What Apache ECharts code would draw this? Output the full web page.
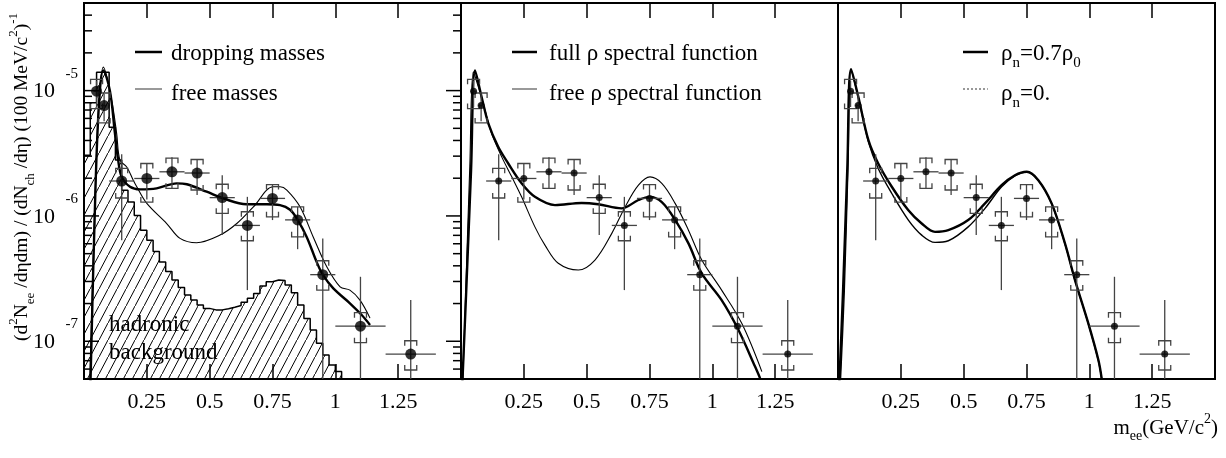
<!DOCTYPE html>
<html><head><meta charset="utf-8">
<script src="https://cdn.jsdelivr.net/npm/echarts@6/dist/echarts.min.js"></script>
<style>html,body{margin:0;padding:0;background:#fff}#c{width:1226px;height:458px}</style>
</head><body><div id="c"></div><script>
// ---------------- data ----------------
const xTickValues = [0.25, 0.5, 0.75, 1, 1.25];
const xTickLabels = ['0.25', '0.5', '0.75', '1', '1.25'];
const yDecades = [1e-7, 1e-6, 1e-5];
const yDecadeExp = ['-7', '-6', '-5'];
const yMinorTicks = [6e-8,7e-8,8e-8,9e-8,2e-7,3e-7,4e-7,5e-7,6e-7,7e-7,8e-7,9e-7,2e-6,3e-6,4e-6,5e-6,6e-6,7e-6,8e-6,9e-6,2e-5,3e-5,4e-5];

// CERES data points
const ptX    = [0.05, 0.08, 0.15, 0.25, 0.35, 0.45, 0.55, 0.65, 0.75, 0.85, 0.95, 1.10, 1.30];
const ptY    = [9.9e-6, 7.6e-6, 1.9e-6, 1.99e-6, 2.25e-6, 2.2e-6, 1.40e-6, 8.4e-7, 1.38e-6, 9.3e-7, 3.4e-7, 1.32e-7, 7.9e-8];
const ptXErr = [0.012, 0.012, 0.05, 0.05, 0.05, 0.05, 0.05, 0.05, 0.05, 0.05, 0.05, 0.1, 0.1];
const statHi = [1.2e-5, 9.4e-6, 3.10e-6, 2.6e-6, 2.94e-6, 2.84e-6, 2.11e-6, 1.42e-6, 1.79e-6, 1.18e-6, 6.62e-7, 3.27e-7, 2.13e-7];
const statLo = [7.4e-6, 5.7e-6, 6.41e-7, 1.35e-6, 1.67e-6, 1.47e-6, 7.03e-7, 2.56e-7, 9.27e-7, 5.43e-7, 1e-8, 1e-8, 1e-8];
const sysHi  = [1.23e-5, 9.57e-6, 2.40e-6, 2.62e-6, 2.89e-6, 2.82e-6, 1.79e-6, 1.08e-6, 1.78e-6, 1.18e-6, 4.39e-7, 1.69e-7, 1.01e-7];
const sysLo  = [7.19e-6, 5.52e-6, 1.39e-6, 1.29e-6, 1.66e-6, 1.61e-6, 1.05e-6, 6.34e-7, 9.84e-7, 6.81e-7, 2.56e-7, 9.75e-8, 5.9e-8];

// hadronic background histogram (bin width 0.025 from 0)
const bgBinWidth = 0.025;
const hadronicBg = [3.05e-6, 8.0e-6, 1.4e-5, 1.4e-5, 5.1e-6, 2.8e-6, 1.6e-6, 1.29e-6, 1.01e-6, 7.7e-7, 6.4e-7, 5.2e-7, 4.3e-7, 3.6e-7, 3.08e-7, 2.69e-7, 2.34e-7, 2.13e-7, 1.95e-7, 1.83e-7, 1.78e-7, 1.78e-7, 1.82e-7, 1.87e-7, 1.93e-7, 2.05e-7, 2.20e-7, 2.41e-7, 2.76e-7, 2.99e-7, 3.08e-7, 3.05e-7, 2.81e-7, 2.44e-7, 1.95e-7, 1.52e-7, 1.23e-7, 9.64e-8, 7.78e-8, 6.47e-8, 5.73e-8];

// panel 1
const dropX = [0.025, 0.045, 0.06, 0.077, 0.103, 0.123, 0.136, 0.150, 0.183, 0.223, 0.289, 0.369, 0.409, 0.488, 0.554, 0.647, 0.727, 0.780, 0.820, 0.850, 0.886, 0.926, 0.950, 0.992, 1.058, 1.105, 1.138];
const dropY = [4e-8, 1.5e-6, 8e-6, 1.45e-5, 1.0e-5, 4.57e-6, 2.79e-6, 2.05e-6, 1.71e-6, 1.63e-6, 1.66e-6, 1.82e-6, 1.79e-6, 1.56e-6, 1.38e-6, 1.24e-6, 1.24e-6, 1.22e-6, 1.12e-6, 9.3e-7, 6.8e-7, 4.28e-7, 3.4e-7, 2.64e-7, 2.01e-7, 1.62e-7, 1.35e-7];
const freeMX = [0.022, 0.045, 0.06, 0.077, 0.110, 0.130, 0.143, 0.170, 0.196, 0.210, 0.250, 0.329, 0.382, 0.448, 0.541, 0.608, 0.674, 0.753, 0.780, 0.807, 0.860, 0.912, 0.966, 1.019, 1.058, 1.098, 1.138];
const freeMY = [4e-8, 1.6e-6, 8.5e-6, 1.54e-5, 8.37e-6, 4.54e-6, 2.79e-6, 2.46e-6, 1.93e-6, 1.71e-6, 1.26e-6, 8.7e-7, 6.62e-7, 6.11e-7, 7.03e-7, 8.7e-7, 1.18e-6, 1.71e-6, 1.71e-6, 1.61e-6, 1.18e-6, 6.8e-7, 3.93e-7, 2.72e-7, 2.56e-7, 2.13e-7, 1.53e-7];
// panel 2
const fullRhoX = [0.004, 0.02, 0.04, 0.056, 0.082, 0.109, 0.148, 0.188, 0.241, 0.294, 0.374, 0.480, 0.546, 0.639, 0.706, 0.752, 0.799, 0.852, 0.905, 0.958, 1.037, 1.104, 1.170, 1.19];
const fullRhoY = [4e-8, 2.3e-7, 2.3e-6, 1.45e-5, 8.9e-6, 5.46e-6, 3.56e-6, 2.62e-6, 1.82e-6, 1.42e-6, 1.22e-6, 1.27e-6, 1.24e-6, 1.15e-6, 1.34e-6, 1.42e-6, 1.29e-6, 9.3e-7, 6.04e-7, 3.48e-7, 2.13e-7, 1.23e-7, 6.28e-8, 5.07e-8];
const freeRhoX = [0.006, 0.02, 0.035, 0.049, 0.069, 0.0955, 0.122, 0.162, 0.202, 0.241, 0.294, 0.334, 0.387, 0.467, 0.533, 0.600, 0.653, 0.706, 0.752, 0.799, 0.852, 0.905, 0.958, 1.037, 1.117, 1.197];
const freeRhoY = [4e-8, 3e-7, 2.5e-6, 1.41e-5, 1.07e-5, 6.97e-6, 4.54e-6, 2.96e-6, 2.05e-6, 1.42e-6, 8.18e-7, 5.85e-7, 4.19e-7, 3.70e-7, 4.45e-7, 7.26e-7, 1.18e-6, 1.76e-6, 2.05e-6, 1.82e-6, 1.26e-6, 7.7e-7, 4.45e-7, 2.56e-7, 1.39e-7, 5.73e-8];
// panel 3
const rho07X = [0.004, 0.02, 0.037, 0.052, 0.081, 0.121, 0.160, 0.214, 0.280, 0.333, 0.386, 0.439, 0.518, 0.585, 0.651, 0.704, 0.751, 0.797, 0.850, 0.903, 0.943, 0.996, 1.036, 1.049];
const rho07Y = [4e-8, 2.5e-7, 2.4e-6, 1.48e-5, 8.9e-6, 4.02e-6, 2.62e-6, 1.71e-6, 1.11e-6, 8.7e-7, 7.46e-7, 7.7e-7, 9.27e-7, 1.26e-6, 1.76e-6, 2.11e-6, 2.25e-6, 1.93e-6, 1.26e-6, 6.04e-7, 3.08e-7, 1.39e-7, 7.1e-8, 5.07e-8];
const rho0X = [0.008, 0.025, 0.04, 0.052, 0.081, 0.121, 0.160, 0.214, 0.280, 0.333, 0.386, 0.439, 0.518, 0.585, 0.651, 0.704, 0.751, 0.797, 0.850, 0.903, 0.943, 0.996, 1.036, 1.049];
const rho0Y = [4e-8, 2.5e-7, 2.6e-6, 1.45e-5, 8.8e-6, 3.9e-6, 2.39e-6, 1.51e-6, 9.27e-7, 7.03e-7, 6.15e-7, 6.34e-7, 8.18e-7, 1.15e-6, 1.71e-6, 2.09e-6, 2.24e-6, 1.92e-6, 1.25e-6, 6.0e-7, 3.06e-7, 1.38e-7, 7.0e-8, 5.0e-8];

// ---------------- chart ----------------
const FONT = "'Liberation Serif','Times New Roman',serif";
const X_MIN = 0, X_MAX = 1.5, Y_MIN = 5e-8, Y_MAX = 5e-5;
const zip = (xs, ys) => xs.map((x, i) => [x, ys[i]]);

function hatchCanvas() {
  const w = 9, h = 17;
  const c = document.createElement('canvas');
  c.width = w; c.height = h;
  const g = c.getContext('2d');
  g.strokeStyle = '#000'; g.lineWidth = 1;
  g.beginPath(); g.moveTo(-w, 2 * h); g.lineTo(2 * w, -h); g.stroke();
  return c;
}

const grids = [84, 461, 838].map(l => ({left: l, top: 3, width: 377, height: 376, show: true, borderColor: '#000', borderWidth: 2, backgroundColor: 'transparent'}));

const xAxes = [], yAxes = [];
grids.forEach((g, i) => {
  const base = {gridIndex: i, type: 'value', min: X_MIN, max: X_MAX, interval: 0.25, axisLine: {show: false}, splitLine: {show: false},
    axisTick: {show: true, inside: true, length: 15, lineStyle: {color: '#000', width: 1.5}}};
  xAxes.push(Object.assign({}, base, {position: 'bottom',
    axisLabel: {show: true, margin: 12, color: '#000', fontFamily: FONT, fontSize: 22,
      formatter: v => { const k = xTickValues.findIndex(t => Math.abs(t - v) < 1e-9); return k < 0 ? '' : xTickLabels[k]; }}}));
  xAxes.push(Object.assign({}, base, {position: 'top', axisLabel: {show: false}}));
  yAxes.push({gridIndex: i, type: 'log', logBase: 10, min: Y_MIN, max: Y_MAX, axisLine: {show: false}, axisTick: {show: false}, axisLabel: {show: false}, splitLine: {show: false}});
});

function curve(gi, xs, ys, w, extra) {
  return Object.assign({type: 'line', xAxisIndex: gi * 2, yAxisIndex: gi, data: zip(xs, ys), smooth: 0.35, symbol: 'none', clip: true,
    lineStyle: {color: '#000', width: w}, z: 3, silent: true}, extra || {});
}

const ptData = ptX.map((x, i) => [x, ptY[i], ptXErr[i], statLo[i], statHi[i], sysLo[i], sysHi[i]]);
function errorBars(gi) {
  return {type: 'custom', xAxisIndex: gi * 2, yAxisIndex: gi, clip: true, silent: true, z: 4, data: ptData,
    encode: {x: 0, y: 1},
    renderItem(params, api) {
      const x = api.value(0), y = api.value(1), dx = api.value(2);
      const c = api.coord([x, y]);
      const sHi = api.coord([x, api.value(4)]), sLo = api.coord([x, api.value(3)]);
      const l = api.coord([x - dx, y]), r = api.coord([x + dx, y]);
      const yH = api.coord([x, api.value(6)])[1], yL = api.coord([x, api.value(5)])[1];
      const w = 6, t = 5, st = {stroke: '#444', lineWidth: 1.3, fill: null};
      return {type: 'group', children: [
        {type: 'line', shape: {x1: c[0], y1: sHi[1], x2: c[0], y2: sLo[1]}, style: st},
        {type: 'line', shape: {x1: l[0], y1: c[1], x2: r[0], y2: c[1]}, style: st},
        {type: 'polyline', shape: {points: [[c[0] - w, yH + t], [c[0] - w, yH], [c[0] + w, yH], [c[0] + w, yH + t]]}, style: st},
        {type: 'polyline', shape: {points: [[c[0] - w, yL - t], [c[0] - w, yL], [c[0] + w, yL], [c[0] + w, yL - t]]}, style: st}
      ]};
    }};
}
function dots(gi, size) {
  return {type: 'scatter', xAxisIndex: gi * 2, yAxisIndex: gi, data: zip(ptX, ptY), symbol: 'circle', symbolSize: size,
    itemStyle: {color: '#000'}, z: 5, silent: true, clip: true};
}

const histData = hadronicBg.map((v, k) => [k * bgBinWidth, v]);
histData.push([hadronicBg.length * bgBinWidth, 3e-8]);

const yTickData = yDecades.map(v => [0.5, v, 1]).concat(yMinorTicks.map(v => [0.5, v, 0]));

const series = [
  {type: 'line', xAxisIndex: 0, yAxisIndex: 0, data: histData, step: 'end', symbol: 'none', clip: true, silent: true, z: 2,
    lineStyle: {color: '#000', width: 1.5}, areaStyle: {color: {image: hatchCanvas(), repeat: 'repeat'}, opacity: 1, origin: 'start'}},
  curve(0, dropX, dropY, 2.4),
  curve(0, freeMX, freeMY, 1.1),
  curve(1, fullRhoX, fullRhoY, 2.4),
  curve(1, freeRhoX, freeRhoY, 1.1),
  curve(2, rho07X, rho07Y, 2.4),
  curve(2, rho0X, rho0Y, 1.4),
  errorBars(0), errorBars(1), errorBars(2),
  dots(0, 11), dots(1, 7), dots(2, 7),
  {type: 'custom', xAxisIndex: 0, yAxisIndex: 0, clip: false, silent: true, z: 6, data: yTickData, encode: {x: 0, y: 1},
    renderItem(params, api) {
      const v = api.value(1), major = api.value(2);
      const L = api.coord([X_MIN, v]), R = api.coord([X_MAX, v]);
      const len = major ? 15 : 8, st = {stroke: '#000', lineWidth: 1.5};
      return {type: 'group', children: [
        {type: 'line', shape: {x1: L[0], y1: L[1], x2: L[0] + len, y2: L[1]}, style: st},
        {type: 'line', shape: {x1: R[0] - len, y1: R[1], x2: R[0], y2: R[1]}, style: st}
      ]};
    }},
  {type: 'custom', xAxisIndex: 0, yAxisIndex: 0, clip: false, silent: true, z: 6, data: yDecades.map(v => [0.5, v]), encode: {x: 0, y: 1},
    renderItem(params, api) {
      const p = api.coord([X_MIN, api.value(1)]);
      return {type: 'group', children: [
        {type: 'text', x: p[0] - 29, y: p[1] + 1, style: {text: '10', fontFamily: FONT, fontSize: 22, fill: '#000', align: 'right', verticalAlign: 'middle'}},
        {type: 'text', x: p[0] - 6, y: p[1] - 17, style: {text: yDecadeExp[params.dataIndex], fontFamily: FONT, fontSize: 15, fill: '#000', align: 'right', verticalAlign: 'middle'}}
      ]};
    }}
];

const rich = (size) => ({
  n: {fontFamily: FONT, fontSize: size, lineHeight: size + 10, verticalAlign: 'middle', fill: '#000'},
  sp: {fontFamily: FONT, fontSize: Math.round(size * 0.66), lineHeight: Math.round(size * 0.66), verticalAlign: 'top', fill: '#000'},
  sb: {fontFamily: FONT, fontSize: Math.round(size * 0.66), lineHeight: Math.round(size * 0.66), verticalAlign: 'bottom', fill: '#000'}
});
function txt(x, y, text, size, align, rot) {
  return {type: 'text', x, y, rotation: rot || 0, z: 10, silent: true,
    style: {text, rich: rich(size), fontFamily: FONT, fontSize: size, fill: '#000', align: align || 'left', verticalAlign: 'middle'}};
}
function legLine(x1, y, x2, w, dash, color) {
  return {type: 'line', z: 10, silent: true, shape: {x1, y1: y, x2, y2: y}, style: {stroke: color || '#000', lineWidth: w, lineDash: dash || null}};
}

const graphic = [
  txt(22, 177, '{n|(d}{sp|2}{n|N}{sb|ee}{n| /dηdm) / (dN}{sb|ch}{n| /dη) (100 MeV/c}{sp|2}{n|)}{sp|-1}', 19.5, 'center', Math.PI / 2),
  txt(1218, 428, '{n|m}{sb|ee}{n|(GeV/c}{sp|2}{n|)}', 21, 'right'),
  legLine(135, 52, 162, 2.5), txt(171, 54, '{n|dropping masses}', 23),
  legLine(135, 89, 162, 1.2, null, '#555'), txt(171, 94, '{n|free masses}', 23),
  txt(109, 325, '{n|hadronic}', 23), txt(109, 353, '{n|background}', 23),
  legLine(512, 52, 537, 2.5), txt(549, 54, '{n|full ρ spectral function}', 23),
  legLine(512, 89, 537, 1.2, null, '#555'), txt(549, 94, '{n|free ρ spectral function}', 23),
  legLine(963, 52, 988, 2.5), txt(1001, 54, '{n|ρ}{sb|n}{n|=0.7ρ}{sb|0}', 23),
  legLine(963, 89, 988, 1.2, [2, 2], '#555'), txt(1001, 94, '{n|ρ}{sb|n}{n|=0.}', 23)
];

const chart = echarts.init(document.getElementById('c'), null, {renderer: 'canvas'});
chart.setOption({animation: false, backgroundColor: '#fff', grid: grids, xAxis: xAxes, yAxis: yAxes, series, graphic});
</script></body></html>
